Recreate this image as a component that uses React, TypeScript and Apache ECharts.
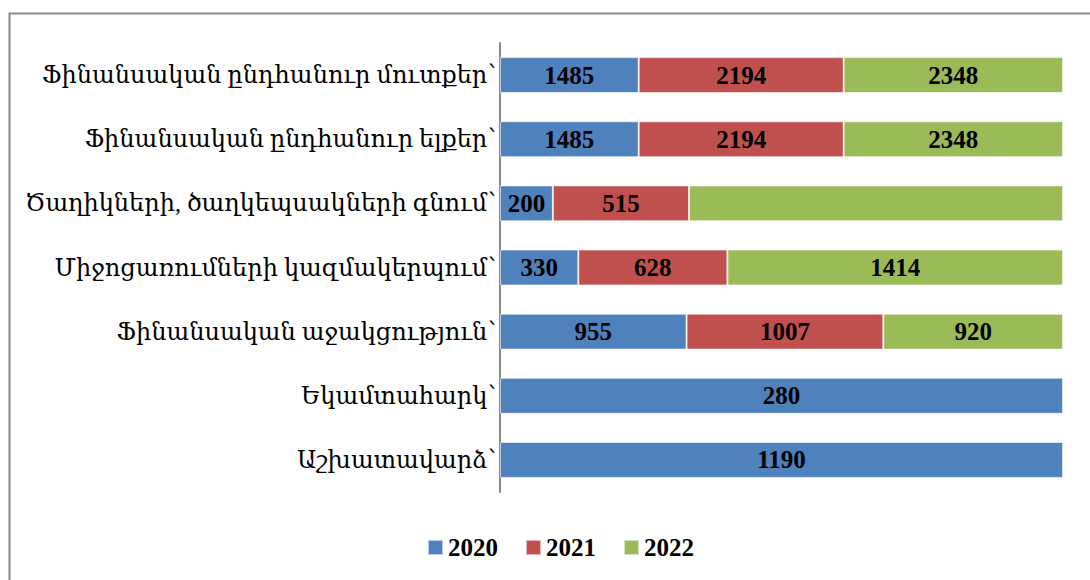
import React, { useEffect, useRef } from "react";
import * as echarts from "echarts";

const categories = [
  "Ֆինանսական ընդհանուր մուտքեր՝",
  "Ֆինանսական ընդհանուր ելքեր՝",
  "Ծաղիկների, ծաղկեպսակների գնում՝",
  "Միջոցառումների կազմակերպում՝",
  "Ֆինանսական աջակցություն՝",
  "Եկամտահարկ՝",
  "Աշխատավարձ՝",
];
const seriesNames = ["2020", "2021", "2022"];
const values2020 = [1485, 1485, 200, 330, 955, 280, 1190];
const values2021 = [2194, 2194, 515, 628, 1007, null, null];
const values2022 = [2348, 2348, 1415, 1414, 920, null, null];
const hiddenLabel2022 = [false, false, true, false, false, false, false];
const colors = ["#4F81BD", "#C0504D", "#9BBB59"];

const FONT = "'Liberation Serif', 'DejaVu Serif', serif";

export default function App() {
  const ref = useRef<HTMLDivElement>(null);
  useEffect(() => {
    if (!ref.current) return;
    const chart = echarts.init(ref.current, null, { renderer: "svg" });
    const all = [values2020, values2021, values2022];
    const totals = categories.map((_, i) =>
      all.reduce((s, arr) => s + (arr[i] ?? 0), 0)
    );
    const series = all.map((arr, si) => ({
      name: seriesNames[si],
      type: "bar",
      stack: "total",
      barWidth: "56%",
      itemStyle: { color: colors[si], borderColor: "rgba(255,255,255,0.6)", borderWidth: 1 },
      label: {
        show: true,
        position: "inside",
        color: "#000",
        fontFamily: FONT,
        fontSize: 25,
        fontWeight: "bold",
        formatter: (p: any) => (p.data && p.data.raw != null ? String(p.data.raw) : ""),
      },
      data: arr.map((v, i) =>
        v == null
          ? null
          : {
              value: (v / totals[i]) * 100,
              raw: v,
              label: si === 2 && hiddenLabel2022[i] ? { show: false } : undefined,
            }
      ),
    }));
    chart.setOption({
      animation: false,
      textStyle: { fontFamily: FONT },
      grid: { left: 500, right: 27, top: 43, bottom: 88, containLabel: false },
      xAxis: { type: "value", min: 0, max: 100, show: false },
      yAxis: {
        type: "category",
        data: categories,
        inverse: true,
        axisLine: { show: true, lineStyle: { color: "#888", width: 2 } },
        axisTick: { show: false },
        axisLabel: { color: "#000", fontFamily: FONT, fontSize: 24, margin: 4 },
      },
      legend: {
        data: seriesNames,
        left: 422,
        top: 530,
        itemWidth: 15,
        itemHeight: 15,
        itemGap: 27,
        icon: "rect",
        textStyle: { color: "#000", fontFamily: FONT, fontSize: 25, fontWeight: "bold" },
      },
      graphic: [
        {
          type: "rect",
          shape: { x: 9.5, y: 13.5, width: 1200, height: 700 },
          style: { fill: "none", stroke: "#888", lineWidth: 2 },
          silent: true,
        },
      ],
      series,
    });
    return () => chart.dispose();
  }, []);
  return (
    <div
      ref={ref}
      style={{ position: "fixed", left: 0, top: 0, width: 1090, height: 580, background: "#fff" }}
    />
  );
}
